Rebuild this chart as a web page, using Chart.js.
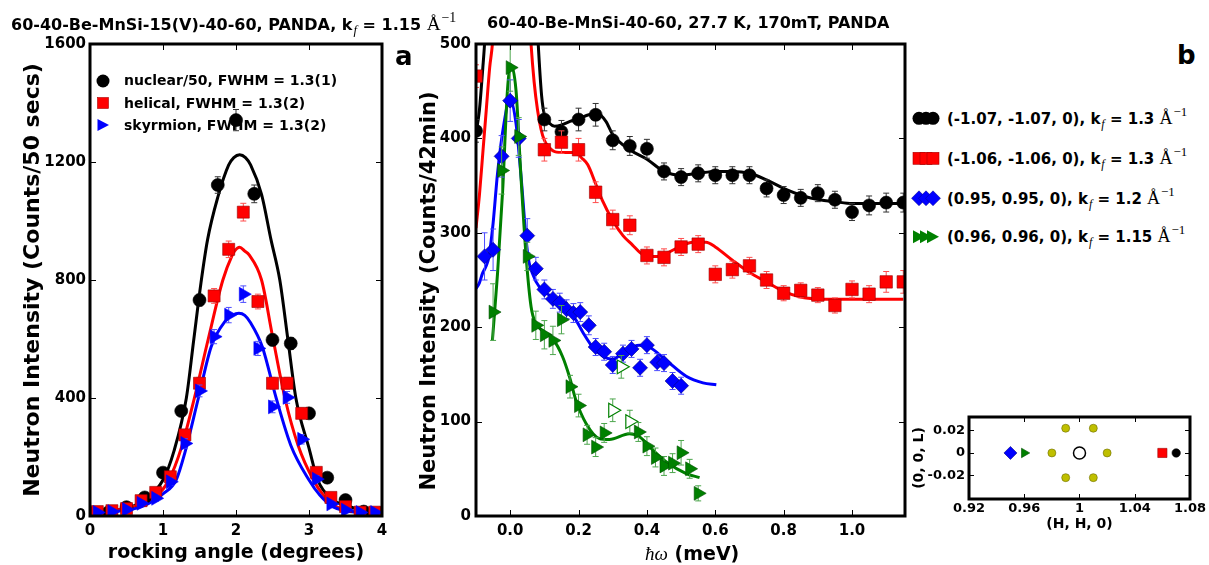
<!DOCTYPE html>
<html>
<head>
<meta charset="utf-8">
<script src="https://cdn.jsdelivr.net/npm/chart.js@4.4.1/dist/chart.umd.min.js"></script>
<style>
body { margin: 0; background: #fff; }
#page { position: relative; width: 1209px; height: 565px; overflow: hidden; font-family: 'DejaVu Sans', sans-serif; font-weight: bold; color: #000; }
canvas { position: absolute; }
.t { position: absolute; white-space: nowrap; line-height: normal; }
.sub { font-family: 'Liberation Serif', serif; font-style: italic; font-weight: normal; font-size: 0.8em; position: relative; top: 0.35em; margin-left: 1px; }
.ang { font-family: 'Liberation Serif', serif; font-weight: normal; font-size: 1.2em; }
.sup { font-size: 0.72em; position: relative; top: -0.6em; margin-left: 1px; }
.mi { font-family: 'Liberation Serif', serif; font-style: italic; font-weight: normal; }
.rot { position: absolute; white-space: nowrap; transform: translate(-50%, -50%) rotate(-90deg); }
</style>
</head>
<body>
<div id="page">
  <canvas id="chartA" width="400" height="565" style="left:0;top:0"></canvas>
  <canvas id="chartB" width="515" height="565" style="left:400px;top:0"></canvas>
  <canvas id="chartC" width="299" height="145" style="left:910px;top:395px"></canvas>

  <div class="t" style="left:11px;top:13px;font-size:16px">60-40-Be-MnSi-15(V)-40-60, PANDA, k<span class="sub">f</span> = 1.15 <span class="ang">Å<span class="sup">−1</span></span></div>
  <div class="t" style="left:487px;top:13px;font-size:16px">60-40-Be-MnSi-40-60, 27.7 K, 170mT, PANDA</div>
  <div class="t" style="left:395px;top:41px;font-size:26px">a</div>
  <div class="t" style="left:1177px;top:40px;font-size:26px">b</div>
  <div class="t" style="left:645px;top:542px;font-size:19px"><span class="mi">ħω</span> (meV)</div>
  <div class="rot" style="left:428px;top:291px;font-size:21px">Neutron Intensity (Counts/42min)</div>

  <div class="t" style="left:124px;top:72px;font-size:14px">nuclear/50, FWHM = 1.3(1)</div>
  <div class="t" style="left:124px;top:94.5px;font-size:14px">helical, FWHM = 1.3(2)</div>
  <div class="t" style="left:124px;top:116.5px;font-size:14px">skyrmion, FWHM = 1.3(2)</div>

  <div class="t" style="left:947px;top:108px;font-size:15px">(-1.07, -1.07, 0), k<span class="sub">f</span> = 1.3 <span class="ang">Å<span class="sup">−1</span></span></div>
  <div class="t" style="left:947px;top:148px;font-size:15px">(-1.06, -1.06, 0), k<span class="sub">f</span> = 1.3 <span class="ang">Å<span class="sup">−1</span></span></div>
  <div class="t" style="left:947px;top:188px;font-size:15px">(0.95, 0.95, 0), k<span class="sub">f</span> = 1.2 <span class="ang">Å<span class="sup">−1</span></span></div>
  <div class="t" style="left:947px;top:226px;font-size:15px">(0.96, 0.96, 0), k<span class="sub">f</span> = 1.15 <span class="ang">Å<span class="sup">−1</span></span></div>

  <svg width="1209" height="565" style="position:absolute;left:0;top:0;pointer-events:none">
    <circle cx="103" cy="81" r="6.5" fill="#000"/>
    <rect x="97.5" y="97.5" width="11" height="11" fill="#f00" stroke="#a00" stroke-width="0.6"/>
    <polygon points="97.5,119 109,125 97.5,131" fill="#00f"/>
    <circle cx="919" cy="118.3" r="6.5" fill="#000"/><circle cx="926" cy="118.3" r="6.5" fill="#000"/><circle cx="933" cy="118.3" r="6.5" fill="#000"/>
    <rect x="913" y="152.3" width="12" height="12" fill="#f00" stroke="#a00" stroke-width="0.6"/><rect x="920" y="152.3" width="12" height="12" fill="#f00" stroke="#a00" stroke-width="0.6"/><rect x="927" y="152.3" width="12" height="12" fill="#f00" stroke="#a00" stroke-width="0.6"/>
    <polygon points="919,190.8 926.5,198.3 919,205.8 911.5,198.3" fill="#00f" stroke="#008" stroke-width="0.5"/>
    <polygon points="926,190.8 933.5,198.3 926,205.8 918.5,198.3" fill="#00f" stroke="#008" stroke-width="0.5"/>
    <polygon points="933,190.8 940.5,198.3 933,205.8 925.5,198.3" fill="#00f" stroke="#008" stroke-width="0.5"/>
    <polygon points="913,230.2 925,236.7 913,243.2" fill="#008000"/><polygon points="920,230.2 932,236.7 920,243.2" fill="#008000"/><polygon points="927,230.2 939,236.7 927,243.2" fill="#008000"/>
  </svg>
</div>

<script>
// ---- panel a: rocking curves ----
const nuclearX = [0, 0.25, 0.5, 0.75, 1.0, 1.25, 1.5, 1.75, 2.0, 2.25, 2.5, 2.75, 3.0, 3.25, 3.5, 3.75, 4.0];
const nuclearY = [10, 12, 30, 63, 147, 356, 732, 1122, 1342, 1092, 597, 585, 348, 130, 54, 15, 10];
const nuclearErr = [4, 4, 6, 8, 10, 14, 20, 28, 36, 30, 20, 20, 16, 10, 8, 4, 4];

const helicalX = [0.1, 0.3, 0.5, 0.7, 0.9, 1.1, 1.3, 1.5, 1.7, 1.9, 2.1, 2.3, 2.5, 2.7, 2.9, 3.1, 3.3, 3.5, 3.7, 3.9];
const helicalY = [15, 18, 25, 52, 80, 133, 275, 450, 746, 904, 1030, 727, 450, 450, 348, 148, 63, 32, 13, 13];
const helicalErr = [5, 5, 6, 8, 10, 12, 16, 20, 25, 28, 30, 25, 20, 20, 18, 12, 8, 6, 5, 5];

const skyrmionY = [12, 15, 22, 43, 60, 116, 246, 424, 608, 681, 752, 568, 370, 402, 260, 125, 41, 20, 12, 12];
const skyrmionErr = [5, 5, 6, 8, 10, 12, 16, 20, 24, 26, 28, 24, 20, 20, 16, 12, 8, 6, 5, 5];

const nuclearFitX = [0, 0.5, 0.75, 1.0, 1.15, 1.32, 1.42, 1.52, 1.61, 1.75, 1.9, 1.97, 2.05, 2.13, 2.2, 2.35, 2.48, 2.6, 2.71, 2.82, 3.0, 3.12, 3.3, 3.57, 3.8, 4.0];
const nuclearFitY = [12, 25, 55, 122, 220, 400, 595, 790, 936, 1080, 1190, 1215, 1225, 1215, 1190, 1090, 936, 800, 600, 400, 230, 122, 60, 31, 15, 12];
const helicalFitX = [0, 0.58, 0.9, 1.08, 1.25, 1.43, 1.62, 1.82, 1.95, 1.98, 2.05, 2.12, 2.18, 2.35, 2.5, 2.67, 2.85, 3.06, 3.2, 3.38, 3.7, 4.0];
const helicalFitY = [12, 31, 65, 122, 230, 400, 600, 800, 885, 898, 911, 898, 885, 800, 610, 400, 240, 122, 70, 31, 14, 12];
const skyrmionFitX = [0, 0.7, 1.0, 1.18, 1.3, 1.485, 1.66, 1.85, 1.95, 2.04, 2.12, 2.2, 2.36, 2.55, 2.75, 3.0, 3.15, 3.33, 3.7, 4.0];
const skyrmionFitY = [10, 31, 75, 122, 215, 400, 574, 660, 680, 687, 680, 655, 574, 400, 240, 122, 70, 31, 12, 10];

const xTicksA = [0, 1, 2, 3, 4];
const xLabelsA = ['0', '1', '2', '3', '4'];
const yTicksA = [0, 400, 800, 1200, 1600];
const yLabelsA = ['0', '400', '800', '1200', '1600'];

// ---- panel b: energy scans ----
const blackX = [-0.1, 0.1, 0.15, 0.2, 0.25, 0.3, 0.35, 0.4, 0.45, 0.5, 0.55, 0.6, 0.65, 0.7, 0.75, 0.8, 0.85, 0.9, 0.95, 1.0, 1.05, 1.1, 1.15];
const blackY = [408, 420, 407, 420, 425, 398, 392, 389, 365, 359, 363, 361, 361, 361, 347, 340, 337, 342, 335, 322, 329, 332, 332];
const blackErr = [12, 12, 12, 12, 12, 10, 10, 10, 9, 9, 9, 9, 9, 9, 9, 9, 9, 9, 9, 9, 10, 10, 10];

const redX = [-0.1, 0.1, 0.15, 0.2, 0.25, 0.3, 0.35, 0.4, 0.45, 0.5, 0.55, 0.6, 0.65, 0.7, 0.75, 0.8, 0.85, 0.9, 0.95, 1.0, 1.05, 1.1, 1.15];
const redY = [466, 388, 396, 388, 343, 314, 308, 276, 274, 285, 288, 256, 261, 265, 250, 236, 239, 234, 223, 240, 235, 248, 248];
const redErr = [12, 12, 12, 12, 11, 10, 10, 9, 9, 9, 9, 9, 9, 9, 9, 8, 8, 8, 8, 9, 9, 11, 12];

const blueX = [-0.075, -0.05, -0.025, 0, 0.025, 0.05, 0.075, 0.1, 0.125, 0.145, 0.165, 0.185, 0.205, 0.23, 0.25, 0.275, 0.3, 0.33, 0.355, 0.38, 0.4, 0.43, 0.45, 0.475, 0.5];
const blueY = [275, 282, 381, 440, 400, 297, 262, 240, 230, 226, 219, 215, 216, 202, 179, 174, 160, 172, 177, 157, 181, 163, 162, 143, 138];
const blueErr = [25, 22, 22, 22, 20, 18, 12, 10, 10, 10, 10, 10, 10, 10, 9, 9, 9, 9, 9, 9, 9, 9, 9, 9, 9];

const greenX = [-0.05, -0.025, 0, 0.025, 0.05, 0.075, 0.1, 0.125, 0.15, 0.175, 0.2, 0.225, 0.25, 0.275, 0.375, 0.4, 0.425, 0.45, 0.475, 0.5, 0.525, 0.55];
const greenY = [216, 366, 475, 402, 275, 202, 192, 186, 208, 137, 117, 86, 73, 88, 89, 74, 62, 53, 56, 67, 50, 24];
const greenErr = [30, 25, 25, 20, 15, 15, 15, 15, 15, 12, 12, 10, 10, 10, 10, 10, 10, 10, 10, 13, 10, 8];
const greenOpenX = [0.3, 0.325, 0.35];
const greenOpenY = [112, 158, 100];
const greenOpenErr = [12, 12, 12];

const blackFitX = [-0.1, -0.09, -0.08, -0.075, -0.065, -0.05, 0, 0.05, 0.07, 0.082, 0.092, 0.1, 0.115, 0.13, 0.148, 0.175, 0.202, 0.23, 0.256, 0.28, 0.3, 0.35, 0.4, 0.45, 0.5, 0.55, 0.6, 0.65, 0.7, 0.75, 0.8, 0.857, 0.905, 0.95, 1.0, 1.15];
const blackFitY = [405, 430, 475, 500, 570, 680, 900, 700, 590, 500, 445, 425, 416, 413, 414, 418, 421, 425, 426, 418, 404, 388, 378, 365, 361, 363, 365, 365, 363, 356, 347, 339, 335, 333, 331, 331];
const redFitX = [-0.1, -0.09, -0.08, -0.07, -0.06, -0.052, -0.04, 0, 0.05, 0.061, 0.07, 0.08, 0.09, 0.1, 0.115, 0.13, 0.16, 0.188, 0.21, 0.227, 0.25, 0.27, 0.3, 0.33, 0.358, 0.38, 0.4, 0.43, 0.456, 0.5, 0.534, 0.573, 0.6, 0.65, 0.7, 0.75, 0.8, 0.85, 0.9, 1.0, 1.15];
const redFitY = [305, 340, 385, 430, 475, 500, 570, 700, 570, 500, 460, 430, 410, 398, 390, 386, 385, 385, 379, 372, 352, 334, 313, 297, 287, 279, 275, 275, 278, 286, 290, 290, 285, 271, 258, 248, 238, 232, 230, 229.5, 229.5];
const blueFitX = [-0.1, -0.09, -0.081, -0.07, -0.062, -0.05, -0.037, -0.018, -0.001, 0.017, 0.031, 0.051, 0.065, 0.09, 0.114, 0.139, 0.173, 0.188, 0.212, 0.241, 0.27, 0.3, 0.339, 0.378, 0.407, 0.456, 0.515, 0.564, 0.603];
const blueFitY = [241, 247, 257, 265, 275, 310, 363, 416, 442, 416, 363, 278, 257, 240, 234, 224, 215, 210, 195, 179, 169.5, 166, 176, 181, 179, 165, 148, 141, 139];
const greenFitX = [-0.052, -0.037, -0.022, -0.008, 0.002, 0.017, 0.031, 0.046, 0.061, 0.075, 0.1, 0.124, 0.153, 0.173, 0.192, 0.222, 0.261, 0.29, 0.349, 0.378, 0.417, 0.456, 0.515, 0.554];
const greenFitY = [186, 257, 345, 451, 478, 451, 363, 278, 222, 204, 195, 188, 169, 148, 123, 98, 82, 81, 87, 84, 70, 57.5, 45, 40.6];

const xTicksB = [0, 0.2, 0.4, 0.6, 0.8, 1.0];
const xLabelsB = ['0.0', '0.2', '0.4', '0.6', '0.8', '1.0'];
const yTicksB = [0, 100, 200, 300, 400, 500];
const yLabelsB = ['0', '100', '200', '300', '400', '500'];

// ---- inset: positions in reciprocal space ----
const insetBlueX = [0.95], insetBlueY = [0];
const insetGreenX = [0.96], insetGreenY = [0];
const insetYellowX = [0.98, 1.02, 0.99, 1.01, 0.99, 1.01];
const insetYellowY = [0, 0, 0.022, 0.022, -0.022, -0.022];
const insetOpenX = [1], insetOpenY = [0];
const insetRedX = [1.06], insetRedY = [0];
const insetBlackX = [1.07], insetBlackY = [0];

const xTicksC = [0.92, 0.96, 1, 1.04, 1.08];
const xLabelsC = ['0.92', '0.96', '1', '1.04', '1.08'];
const yTicksC = [-0.02, 0, 0.02];
const yLabelsC = ['-0.02', '0', '0.02'];

Chart.defaults.font.family = "'DejaVu Sans', sans-serif";
Chart.defaults.font.weight = 'bold';
Chart.defaults.color = '#000';
Chart.defaults.animation = false;

function pts(xs, ys) {
    return xs.map((x, i) => ({x: x, y: ys[i]}));
}

function markers(xs, ys, style, color, edge, radius, order, extra) {
    return Object.assign({
        data: pts(xs, ys),
        showLine: false,
        clip: 0,
        order: order,
        pointStyle: style,
        pointRadius: radius,
        pointBackgroundColor: color,
        pointBorderColor: edge,
        pointBorderWidth: 0.6
    }, extra || {});
}

function curve(xs, ys, color, order) {
    return {
        data: pts(xs, ys),
        showLine: true,
        pointRadius: 0,
        borderColor: color,
        borderWidth: 3,
        cubicInterpolationMode: 'monotone',
        clip: 0,
        order: order
    };
}

function axis(o) {
    return {
        type: 'linear',
        min: o.min,
        max: o.max,
        grid: {display: false, drawTicks: false},
        border: {display: false},
        afterBuildTicks: (s) => { s.ticks = o.ticks.map(v => ({value: v})); },
        afterFit: (s) => {
            if (o.width) s.width = o.width;
            if (o.height) s.height = o.height;
        },
        ticks: {
            autoSkip: false,
            maxRotation: 0,
            padding: o.pad,
            color: '#000',
            font: {size: o.size, weight: 'bold'},
            callback: (v, i) => o.labels[i]
        },
        title: o.title ? {
            display: true,
            text: o.title,
            color: '#000',
            font: {size: o.titleSize, weight: 'bold'},
            padding: o.titlePad
        } : {display: false}
    };
}

// frame with inward ticks on all four sides
const framePlugin = {
    id: 'frame',
    afterDraw(chart, args, opts) {
        const {ctx, chartArea: a, scales: {x, y}} = chart;
        const len = opts.tick || 6;
        ctx.save();
        ctx.strokeStyle = '#000';
        ctx.lineWidth = 1;
        ctx.beginPath();
        x.ticks.forEach(t => {
            const px = Math.round(x.getPixelForValue(t.value)) + 0.5;
            ctx.moveTo(px, a.bottom); ctx.lineTo(px, a.bottom - len);
            ctx.moveTo(px, a.top); ctx.lineTo(px, a.top + len);
        });
        y.ticks.forEach(t => {
            const py = Math.round(y.getPixelForValue(t.value)) + 0.5;
            ctx.moveTo(a.left, py); ctx.lineTo(a.left + len, py);
            ctx.moveTo(a.right, py); ctx.lineTo(a.right - len, py);
        });
        ctx.stroke();
        ctx.lineWidth = opts.width || 3;
        ctx.strokeRect(a.left, a.top, a.right - a.left, a.bottom - a.top);
        ctx.restore();
    }
};

// vertical error bars with caps, drawn just before each dataset's markers
const errorBarPlugin = {
    id: 'errorBars',
    beforeDatasetDraw(chart, args) {
        const ds = chart.data.datasets[args.index];
        if (!ds.errors) return;
        const {ctx, chartArea: a, scales: {x, y}} = chart;
        ctx.save();
        ctx.beginPath();
        ctx.rect(a.left, a.top, a.right - a.left, a.bottom - a.top);
        ctx.clip();
        ctx.strokeStyle = ds.errorColor;
        ctx.lineWidth = 1;
        ctx.beginPath();
        ds.data.forEach((p, i) => {
            const px = x.getPixelForValue(p.x);
            const top = y.getPixelForValue(p.y + ds.errors[i]);
            const bot = y.getPixelForValue(p.y - ds.errors[i]);
            ctx.moveTo(px, top); ctx.lineTo(px, bot);
            ctx.moveTo(px - 3, top); ctx.lineTo(px + 3, top);
            ctx.moveTo(px - 3, bot); ctx.lineTo(px + 3, bot);
        });
        ctx.stroke();
        ctx.restore();
    }
};

const common = {
    responsive: false,
    events: [],
    plugins: {legend: {display: false}, tooltip: {enabled: false}}
};

new Chart(document.getElementById('chartA'), {
    type: 'scatter',
    data: {
        datasets: [
            markers(helicalX, skyrmionY, 'triangle', '#0000ff', '#0000ff', 8, 0, {rotation: 90, errors: skyrmionErr, errorColor: '#4d4dff'}),
            markers(helicalX, helicalY, 'rect', '#ff0000', '#990000', 8.5, 1, {errors: helicalErr, errorColor: '#ff4d4d'}),
            markers(nuclearX, nuclearY, 'circle', '#000000', '#000000', 6.5, 2, {errors: nuclearErr, errorColor: '#333333'}),
            curve(skyrmionFitX, skyrmionFitY, '#0000ff', 3),
            curve(helicalFitX, helicalFitY, '#ff0000', 4),
            curve(nuclearFitX, nuclearFitY, '#000000', 5)
        ]
    },
    options: Object.assign({}, common, {
        layout: {padding: {left: 0, right: 18, top: 44, bottom: 0}},
        plugins: Object.assign({}, common.plugins, {frame: {tick: 6, width: 3}}),
        scales: {
            x: axis({min: 0, max: 4, ticks: xTicksA, labels: xLabelsA, size: 15, pad: 6, height: 49,
                title: 'rocking angle (degrees)', titleSize: 19, titlePad: {top: 0, bottom: 1}}),
            y: axis({min: 0, max: 1600, ticks: yTicksA, labels: yLabelsA, size: 15, pad: 4, width: 90,
                title: 'Neutron Intensity (Counts/50 secs)', titleSize: 22, titlePad: {top: 20, bottom: 0}})
        }
    }),
    plugins: [framePlugin, errorBarPlugin]
});

new Chart(document.getElementById('chartB'), {
    type: 'scatter',
    data: {
        datasets: [
            markers(greenX, greenY, 'triangle', '#008000', '#005000', 8, 0, {rotation: 90, errors: greenErr, errorColor: '#4da64d'}),
            markers(greenOpenX, greenOpenY, 'triangle', '#ffffff', '#008000', 8, 1, {rotation: 90, pointBorderWidth: 1.2, errors: greenOpenErr, errorColor: '#4da64d'}),
            markers(blueX, blueY, 'rectRot', '#0000ff', '#000080', 7.5, 2, {errors: blueErr, errorColor: '#4d4dff'}),
            markers(redX, redY, 'rect', '#ff0000', '#990000', 8.8, 3, {errors: redErr, errorColor: '#ff4d4d'}),
            markers(blackX, blackY, 'circle', '#000000', '#000000', 6.5, 4, {errors: blackErr, errorColor: '#333333'}),
            curve(greenFitX, greenFitY, '#008000', 5),
            curve(blueFitX, blueFitY, '#0000ff', 6),
            curve(redFitX, redFitY, '#ff0000', 7),
            curve(blackFitX, blackFitY, '#000000', 8)
        ]
    },
    options: Object.assign({}, common, {
        layout: {padding: {left: 0, right: 10, top: 44, bottom: 0}},
        plugins: Object.assign({}, common.plugins, {frame: {tick: 6, width: 3}}),
        scales: {
            x: axis({min: -0.1, max: 1.155, ticks: xTicksB, labels: xLabelsB, size: 15, pad: 6, height: 49}),
            y: axis({min: 0, max: 500, ticks: yTicksB, labels: yLabelsB, size: 15, pad: 5, width: 76})
        }
    }),
    plugins: [framePlugin, errorBarPlugin]
});

new Chart(document.getElementById('chartC'), {
    type: 'scatter',
    data: {
        datasets: [
            markers(insetBlueX, insetBlueY, 'rectRot', '#0000ff', '#000080', 6.5, 0),
            markers(insetGreenX, insetGreenY, 'triangle', '#008000', '#005000', 5.5, 1, {rotation: 90}),
            markers(insetYellowX, insetYellowY, 'circle', '#bfbf00', '#6b6b00', 4, 2),
            markers(insetOpenX, insetOpenY, 'circle', '#ffffff', '#000000', 6, 3, {pointBorderWidth: 1.5}),
            markers(insetRedX, insetRedY, 'rect', '#ff0000', '#990000', 6.5, 4),
            markers(insetBlackX, insetBlackY, 'circle', '#000000', '#000000', 4.2, 5)
        ]
    },
    options: Object.assign({}, common, {
        layout: {padding: {left: 0, right: 19, top: 22, bottom: 0}},
        plugins: Object.assign({}, common.plugins, {frame: {tick: 5, width: 3}}),
        scales: {
            x: axis({min: 0.92, max: 1.08, ticks: xTicksC, labels: xLabelsC, size: 13, pad: 2, height: 41,
                title: '(H, H, 0)', titleSize: 14, titlePad: {top: 0, bottom: 7}}),
            y: axis({min: -0.041, max: 0.032, ticks: yTicksC, labels: yLabelsC, size: 13, pad: 4, width: 59,
                title: '(0, 0, L)', titleSize: 14, titlePad: {top: 1, bottom: 0}})
        }
    }),
    plugins: [framePlugin, errorBarPlugin]
});
</script>
</body>
</html>
